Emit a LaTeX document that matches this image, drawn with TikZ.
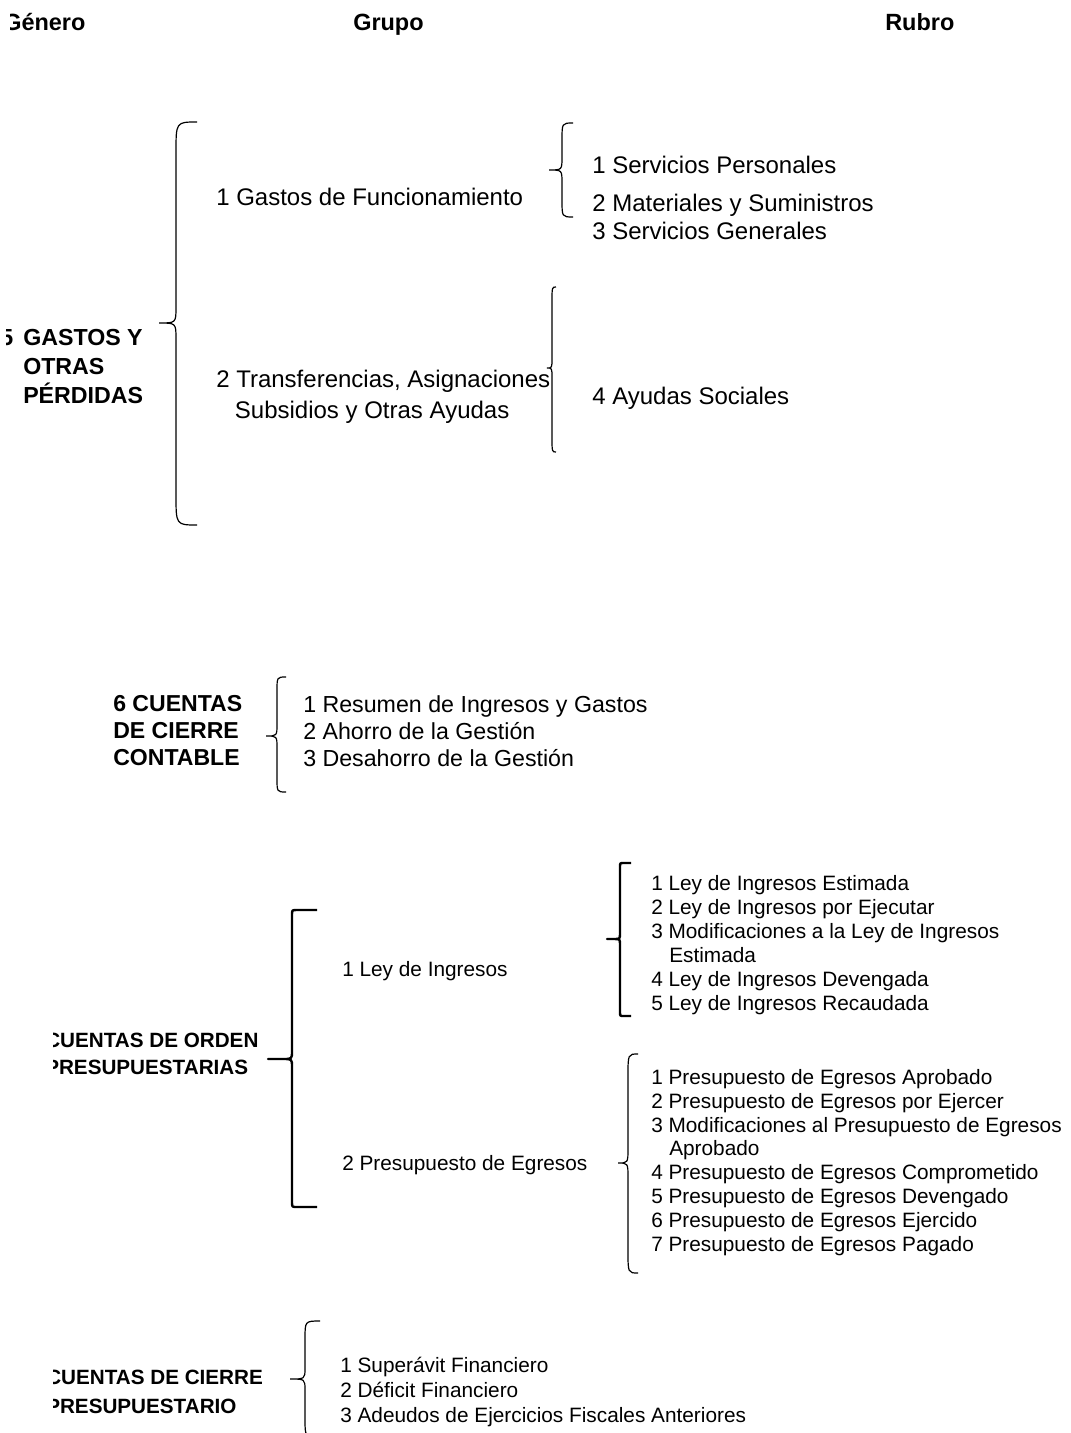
\documentclass[tikz,border=0pt]{standalone}
\usepackage{fontspec}
\setmainfont{Liberation Sans}
\newcommand{\tam}[2]{\fontsize{#1}{#2}\selectfont}

\begin{document}
\begin{tikzpicture}[x=0.75pt,y=-0.75pt,
  texto/.style={anchor=west,inner sep=0pt,align=left},
  linea/.style={texto,text height=12.9pt,text depth=0pt},
  lineachica/.style={texto,text height=11.2pt,text depth=0pt},
  negrita/.style={anchor=west,inner sep=0pt,align=left},
  encabezado/.style={negrita,font=\bfseries\tam{17.6}{21},text height=12.7pt,text depth=0pt},
  llave/.style={line width=0.9pt},
  corchete/.style={line width=1.8pt,line join=round}]
  \useasboundingbox (0,0) rectangle (1070,1433);
  \clip (0,0) rectangle (1070,1433);

  % encabezados
  \begin{scope}
    \clip (10,0) rectangle (300,45);
    \node[encabezado] (genero) at (3,22) {Género};
  \end{scope}
  \node[encabezado] (grupo) at (353,22) {Grupo};
  \node[encabezado] (rubro) at (885,22) {Rubro};

  % 5 gastos y otras perdidas
  \begin{scope}
    \clip (6,300) rectangle (200,430);
    \node[negrita, font=\bfseries\tam{17.4}{21.75}] (gastos) at (23,367) {\llap{5\hspace{7.5pt}}GASTOS Y\\OTRAS\\PÉRDIDAS};
  \end{scope}
  \draw[llave] (197,122) .. controls (176,122) .. (176,152) -- (176,307) .. controls (176,323) .. (159,323) .. controls (176,323) .. (176,339) -- (176,495) .. controls (176,525) .. (197,525);
  \node[linea, font=\tam{18}{23.25}] (funcionamiento) at (216,197) {1 Gastos de Funcionamiento};
  \node[texto, font=\tam{18}{23.25}] (transferencias) at (216,396.5) {2 Transferencias, Asignaciones\\\hspace*{14pt}Subsidios y Otras Ayudas};
  \draw[llave] (573,123) .. controls (562,123) .. (562,140) -- (562,157) .. controls (562,170) .. (549,170) .. controls (562,170) .. (562,183) -- (562,200) .. controls (562,217) .. (573,217);
  \node[linea, font=\tam{18}{23.25}] (personales) at (592,165) {1 Servicios Personales};
  \node[linea, font=\tam{18}{23.25}] (materiales) at (592,203) {2 Materiales y Suministros};
  \node[linea, font=\tam{18}{23.25}] (generales) at (592,231) {3 Servicios Generales};
  \draw[llave] (556,287) .. controls (552,287) .. (552,302) -- (552,358) .. controls (552,368) .. (547,368) .. controls (552,368) .. (552,378) -- (552,437) .. controls (552,452) .. (556,452);
  \node[linea, font=\tam{18}{23.25}] (ayudas) at (592,396) {4 Ayudas Sociales};

  % 6 cuentas de cierre contable
  \node[negrita, font=\bfseries\tam{17.3}{20.25}] (contable) at (113,731) {6 CUENTAS\\DE CIERRE\\CONTABLE};
  \draw[llave] (286,677) .. controls (277,677) .. (277,691) -- (277,724) .. controls (277,736) .. (266,736) .. controls (277,736) .. (277,748) -- (277,778) .. controls (277,792) .. (286,792);
  \node[texto, font=\tam{17.4}{20.25}] (resumen) at (303,731) {1 Resumen de Ingresos y Gastos\\2 Ahorro de la Gestión\\3 Desahorro de la Gestión};

  % cuentas de orden presupuestarias
  \begin{scope}
    \clip (53,1020) rectangle (280,1090);
    \node[negrita, font=\bfseries\tam{15.5}{20.25}] (orden) at (45,1053.5) {CUENTAS DE ORDEN\\PRESUPUESTARIAS};
  \end{scope}
  \draw[corchete] (317,910) -- (297,910) .. controls (292,910) .. (292,915) -- (292,1051) .. controls (292,1059) .. (283,1059) -- (268,1059) -- (283,1059) .. controls (292,1059) .. (292,1067) -- (292,1202) .. controls (292,1207) .. (297,1207) -- (317,1207);
  \node[lineachica, font=\tam{15.6}{18}] (ley) at (342,969) {1 Ley de Ingresos};
  \node[lineachica, font=\tam{15.6}{18}] (egresos) at (342,1163) {2 Presupuesto de Egresos};
  \draw[corchete] (631,863) -- (624,863) .. controls (620,863) .. (620,867) -- (620,933) .. controls (620,939) .. (614,939) -- (607,939) -- (614,939) .. controls (620,939) .. (620,945) -- (620,1012) .. controls (620,1016) .. (624,1016) -- (631,1016);
  \node[texto, font=\tam{15.6}{18}] (leylista) at (651,945) {1 Ley de Ingresos Estimada\\2 Ley de Ingresos por Ejecutar\\3 Modificaciones a la Ley de Ingresos\\\hspace*{13.5pt}Estimada\\4 Ley de Ingresos Devengada\\5 Ley de Ingresos Recaudada};
  \draw[llave] (638,1054) .. controls (628,1054) .. (628,1076) -- (628,1148) .. controls (628,1163) .. (618,1163) .. controls (628,1163) .. (628,1178) -- (628,1251) .. controls (628,1273) .. (638,1273);
  \node[texto, font=\tam{15.6}{17.9}] (egresoslista) at (651,1162.5) {1 Presupuesto de Egresos Aprobado\\2 Presupuesto de Egresos por Ejercer\\3 Modificaciones al Presupuesto de Egresos\\\hspace*{13.5pt}Aprobado\\4 Presupuesto de Egresos Comprometido\\5 Presupuesto de Egresos Devengado\\6 Presupuesto de Egresos Ejercido\\7 Presupuesto de Egresos Pagado};

  % cuentas de cierre presupuestario
  \begin{scope}
    \clip (53,1350) rectangle (285,1425);
    \node[negrita, font=\bfseries\tam{15.5}{21.75}] (presupuestario) at (46,1391.5) {CUENTAS DE CIERRE\\PRESUPUESTARIO};
  \end{scope}
  \draw[llave] (320,1321) .. controls (305,1321) .. (305,1339) -- (305,1368) .. controls (305,1379) .. (290,1379) .. controls (305,1379) .. (305,1390) -- (305,1419) .. controls (305,1437) .. (320,1437);
  \node[texto, font=\tam{15.6}{18.75}] (financiero) at (340,1392) {1 Superávit Financiero\\2 Déficit Financiero\\3 Adeudos de Ejercicios Fiscales Anteriores};
\end{tikzpicture}
\end{document}
